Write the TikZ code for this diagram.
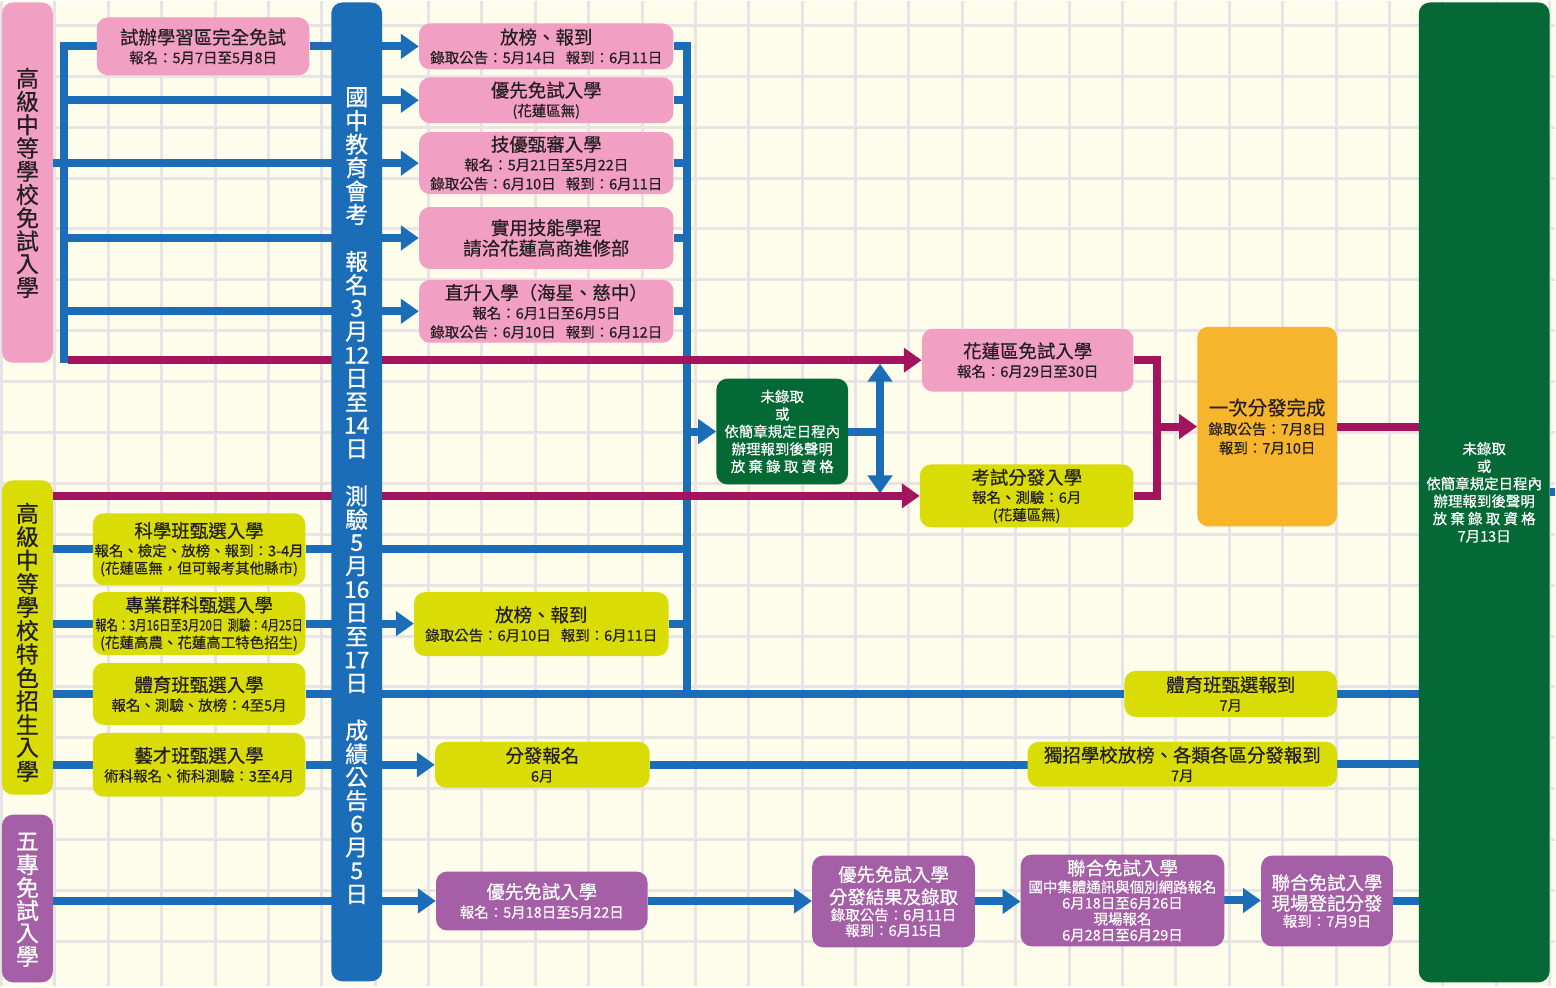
\documentclass[tikz,border=0pt]{standalone}
\usepackage{fontspec}
\setmainfont{Noto Sans CJK TC}[FakeBold=0.5]
\usetikzlibrary{arrows.meta}
\pgfdeclarelayer{bottom}
\pgfdeclarelayer{links}
\pgfsetlayers{bottom,links,main}
\definecolor{bgc}{HTML}{FEFCEA}
\definecolor{gridc}{HTML}{E8E4E6}
\definecolor{pinkc}{HTML}{F29FC4}
\definecolor{ylwc}{HTML}{DADC06}
\definecolor{purc}{HTML}{A55FA6}
\definecolor{dgrc}{HTML}{046934}
\definecolor{orc}{HTML}{F7B52D}
\definecolor{bluc}{HTML}{1B6DB7}
\definecolor{magc}{HTML}{A3135E}
\definecolor{txtc}{HTML}{231F20}
\newcommand\ttl{\fontsize{18.5}{19}\selectfont}
\newcommand\sbt{\fontsize{14.5}{17.5}\selectfont}
\newcommand\vtx{\fontsize{23}{23}\selectfont}
\newcommand\bx[7]{\node[#2, minimum width={(#5-#3)*1pt}, minimum height={(#6-#4)*1pt}] (#1) at ({(#3+#5)/2},{(#4+#6)/2}) {#7};}
\tikzset{
  base/.style={rounded corners=11pt, inner sep=0pt, align=center, text=txtc, font=\sbt},
  pk/.style={base, fill=pinkc},
  yl/.style={base, fill=ylwc},
  pu/.style={base, fill=purc, text=white},
  gr/.style={base, fill=dgrc, text=white},
  og/.style={base, fill=orc},
  bar/.style={base, fill=bluc},
  vch/.style={inner sep=0pt, font=\vtx},
  bl/.style={line width=8pt, draw=bluc},
  mg/.style={line width=8pt, draw=magc},
  arr/.style={-{Triangle[length=18pt,width=24pt]}},
  gridline/.style={line width=3pt, draw=gridc},
}
\begin{document}
\begin{tikzpicture}[x=1pt,y=-1pt]
\begin{pgfonlayer}{bottom}
\fill[bgc] (0,0) rectangle (1556,987);
\foreach \k in {0,...,29} \draw[gridline] ({53.5*\k-0.5},0) -- ({53.5*\k-0.5},987);
\foreach \k in {0,...,18} \draw[gridline] (0,{24+51*\k}) -- (1556,{24+51*\k});
\end{pgfonlayer}
\useasboundingbox (0,0) rectangle (1556,987);

% boxes
\bx{L1}{pk}{0}{1}{51}{362}{}
\bx{L2}{yl}{0}{480}{51}{795}{}
\bx{L3}{pu}{0}{815}{51}{983}{}
\bx{BAR}{bar}{330}{1}{381}{982}{}
\bx{BG}{gr}{1420}{1}{1551}{983}{未錄取\\或\\依簡章規定日程內\\辦理報到後聲明\\放 棄 錄 取 資 格\\7月13日}

\bx{P1}{pk}{95}{16}{308}{74}{{\ttl 試辦學習區完全免試}\\[1.5pt]報名：5月7日至5月8日}
\bx{B1}{pk}{418}{22}{673}{68}{{\ttl 放榜、報到}\\[1.5pt]錄取公告：5月14日\hspace{0.7em}報到：6月11日}
\bx{B2}{pk}{418}{76}{673}{122}{{\ttl 優先免試入學}\\[1.5pt](花蓮區無)}
\bx{B3}{pk}{418}{131}{673}{193}{{\ttl 技優甄審入學}\\[1.5pt]報名：5月21日至5月22日\\[1.5pt]錄取公告：6月10日\hspace{0.7em}報到：6月11日}
\bx{B4}{pk}{418}{206}{673}{268}{{\ttl 實用技能學程}\\[3pt]{\ttl 請洽花蓮高商進修部}}
\bx{B5}{pk}{418}{279}{673}{342}{{\ttl 直升入學（海星、慈中）}\\[1.5pt]報名：6月1日至6月5日\\[1.5pt]錄取公告：6月10日\hspace{0.7em}報到：6月12日}

\bx{HL}{pk}{922}{328}{1134}{391}{{\ttl 花蓮區免試入學}\\[1.5pt]報名：6月29日至30日}
\bx{G1}{gr}{716}{378}{848}{484}{未錄取\\或\\依簡章規定日程內\\辦理報到後聲明\\放 棄 錄 取 資 格}
\bx{KS}{yl}{920}{464}{1134}{527}{{\ttl 考試分發入學}\\[1pt]報名、測驗：6月\\(花蓮區無)}
\bx{OR}{og}{1198}{326}{1338}{526}{{\fontsize{19.5}{19}\selectfont 一次分發完成}\\[2pt]錄取公告：7月8日\\[1.5pt]報到：7月10日}

\bx{Y1}{yl}{91}{513}{304}{585}{{\ttl 科學班甄選入學}\\[1pt]報名、檢定、放榜、報到：3-4月\\(花蓮區無，但可報考其他縣市)}
\bx{Y2}{yl}{91}{592}{304}{655}{{\ttl 專業群科甄選入學}\\[1pt]\scalebox{0.78}[1]{報名：3月16日至3月20日\hspace{0.4em}測驗：4月25日}\\(花蓮高農、花蓮高工特色招生)}
\bx{Y3}{yl}{91}{663}{304}{725}{{\ttl 體育班甄選入學}\\[1.5pt]報名、測驗、放榜：4至5月}
\bx{Y4}{yl}{91}{733}{304}{797}{{\ttl 藝才班甄選入學}\\[1.5pt]術科報名、術科測驗：3至4月}
\bx{Y5}{yl}{413}{592}{668}{656}{{\ttl 放榜、報到}\\[1.5pt]錄取公告：6月10日\hspace{0.7em}報到：6月11日}
\bx{Y6}{yl}{1125}{671}{1338}{717}{{\ttl 體育班甄選報到}\\[1.5pt]7月}
\bx{Y7}{yl}{434}{742}{649}{788}{{\ttl 分發報名}\\[1.5pt]6月}
\bx{Y8}{yl}{1028}{742}{1338}{787}{{\ttl 獨招學校放榜、各類各區分發報到}\\[1.5pt]7月}

\bx{U1}{pu}{435}{872}{647}{931}{{\ttl 優先免試入學}\\[1.5pt]報名：5月18日至5月22日}
\bx{U2}{pu}{812}{856}{975}{948}{{\ttl 優先免試入學}\\[5pt]{\ttl 分發結果及錄取}\\[-1pt]錄取公告：6月11日\\[-2pt]報到：6月15日}
\bx{U3}{pu}{1021}{855}{1225}{947}{{\ttl 聯合免試入學}\\[0pt]國中集體通訊與個別網路報名\\[-1.5pt]6月18日至6月26日\\[-1.5pt]現場報名\\[-1.5pt]6月28日至6月29日}
\bx{U4}{pu}{1262}{856}{1394}{947}{{\ttl 聯合免試入學}\\[3pt]{\ttl 現場登記分發}\\[-1pt]報到：7月9日}

% vertical texts
\foreach \c [count=\i] in {高,級,中,等,學,校,免,試,入,學}
  \node[vch, text=txtc] (l1c\i) at (25.5,{77+23.3*(\i-1)}) {\c};
\foreach \c [count=\i] in {高,級,中,等,學,校,特,色,招,生,入,學}
  \node[vch, text=txtc] (l2c\i) at (25.5,{513+23.5*(\i-1)}) {\c};
\foreach \c [count=\i] in {五,專,免,試,入,學}
  \node[vch, text=white] (l3c\i) at (25.5,{842+23*(\i-1)}) {\c};
\foreach \c [count=\i] in {國,中,教,育,會,考,{},報,名,3,月,12,日,至,14,日,{},測,驗,5,月,16,日,至,17,日,{},成,績,公,告,6,月,5,日}
  \node[vch, text=white] (bc\i) at (355.5,{96+23.5*(\i-1)}) {\c};

% helper coordinates
\coordinate (lc) at (62,0);
\coordinate (lcb) at (62,362);
\coordinate (rc) at (687,693);
\coordinate (va) at (880,363);
\coordinate (vb) at (880,493);
\coordinate (mc) at (1158,0);
\coordinate (bgout) at (1556,492);

\begin{pgfonlayer}{links}
% blue connectors
\draw[bl] (P1.west) -| (lcb);
\draw[bl,arr] (P1.east) -- (P1.east -| B1.west);
\draw[bl,arr] (B2.west -| lc) -- (B2.west);
\draw[bl,arr] (B3.west -| L1.east) -- (B3.west);
\draw[bl,arr] (B4.west -| lc) -- (B4.west);
\draw[bl,arr] (B5.west -| lc) -- (B5.west);
\draw[bl] (B1.east) -| (rc);
\foreach \n in {B2,B3,B4,B5,Y1,Y5} \draw[bl] (\n.east) -- (\n.east -| rc);
\draw[bl,arr] (G1.west -| rc) -- (G1.west);
\draw[bl] (G1.east) -- (G1.east -| va);
\draw[bl,{Triangle[length=18pt,width=24pt]}-{Triangle[length=18pt,width=24pt]}] (va) -- (vb);
\foreach \n in {Y1,Y2,Y3,Y4} \draw[bl] (\n.west -| L2.east) -- (\n.west);
\draw[bl,arr] (Y2.east) -- (Y2.east -| Y5.west);
\draw[bl] (Y3.east) -- (Y3.east -| Y6.west);
\draw[bl] (Y6.east) -- (Y6.east -| BG.west);
\draw[bl,arr] (Y4.east) -- (Y4.east -| Y7.west);
\draw[bl] (Y7.east) -- (Y7.east -| Y8.west);
\draw[bl] (Y8.east) -- (Y8.east -| BG.west);
\draw[bl,arr] (U1.west -| L3.east) -- (U1.west);
\draw[bl,arr] (U1.east) -- (U1.east -| U2.west);
\draw[bl,arr] (U2.east) -- (U2.east -| U3.west);
\draw[bl,arr] (U3.east) -- (U3.east -| U4.west);
\draw[bl] (U4.east) -- (U4.east -| BG.west);
\draw[bl] (BG.east |- bgout) -- (bgout);
% magenta connectors
\draw[mg,arr] (HL.west -| lc) ++(4,0) -- (HL.west);
\draw[mg,arr] (KS.west -| L2.east) -- (KS.west);
\draw[mg] (HL.east) -| (mc |- KS.east) -- (KS.east);
\draw[mg,arr] (mc |- OR.west) -- (OR.west);
\draw[mg] (OR.east) -- (OR.east -| BG.west);
\end{pgfonlayer}
\end{tikzpicture}
\end{document}
